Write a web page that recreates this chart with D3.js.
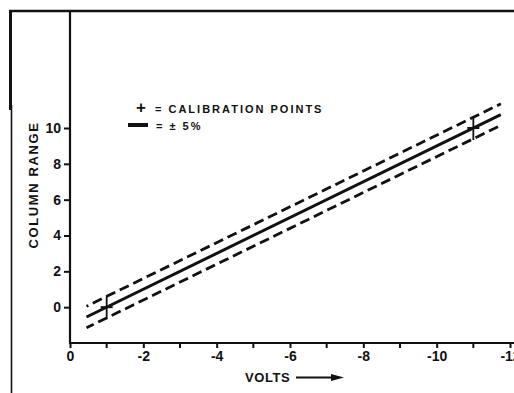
<!DOCTYPE html>
<html>
<head>
<meta charset="utf-8">
<script src="https://cdn.jsdelivr.net/npm/d3@7"></script>
<style>
  html, body { margin: 0; padding: 0; background: #fff; }
  svg { display: block; }
  text { font-family: "Liberation Sans", "DejaVu Sans", sans-serif; font-weight: bold; fill: #111; }
</style>
</head>
<body>
<svg id="chart" width="514" height="393"></svg>
<script>
// Axis ticks
const voltTicks = [0, -2, -4, -6, -8, -10, -12];
const voltMinorTicks = [-1, -3, -5, -7, -9, -11];
const rangeTicks = [0, 2, 4, 6, 8, 10];

// Calibration curve: column range vs. volts
const curveVolts = [-0.45, -11.75];
const curveRange = [-0.55, 10.75];
// ±5% tolerance band
const upperRange = [0.05, 11.35];
const lowerRange = [-1.15, 10.15];

// Calibration points
const calVolts = [-1, -11];
const calRange = [0, 10];

const svg = d3.select("#chart");
const ink = "#111";

const x = d3.scaleLinear().domain([0, -12]).range([70, 510]);
const y = d3.scaleLinear().domain([-2, 10]).range([343, 128]);

// Frame lines
svg.append("line").attr("x1", 9).attr("x2", 514).attr("y1", 11).attr("y2", 11)
  .attr("stroke", ink).attr("stroke-width", 2.5);
svg.append("line").attr("x1", 10.5).attr("x2", 10.5).attr("y1", 10).attr("y2", 110)
  .attr("stroke", ink).attr("stroke-width", 3);
svg.append("line").attr("x1", 11.5).attr("x2", 11.5).attr("y1", 105).attr("y2", 393)
  .attr("stroke", ink).attr("stroke-width", 1.6);

// Y axis
const yAxis = svg.append("g").attr("transform", "translate(70,0)")
  .call(d3.axisLeft(y).tickValues(rangeTicks).tickSize(6).tickPadding(3).tickFormat(d3.format("d")));
yAxis.select(".domain").remove();
yAxis.selectAll(".tick line").attr("stroke", ink).attr("stroke-width", 2);
yAxis.selectAll(".tick text").attr("font-size", 14).style("font-family", "'Liberation Sans', sans-serif")
  .style("font-weight", "bold").attr("fill", ink);
svg.append("line").attr("x1", 70).attr("x2", 70).attr("y1", 10).attr("y2", 344)
  .attr("stroke", ink).attr("stroke-width", 2.2);

// X axis
const xAxis = svg.append("g").attr("transform", "translate(0,343)")
  .call(d3.axisBottom(x).tickValues(voltTicks).tickSize(5).tickPadding(3)
    .tickFormat(d => d === 0 ? "0" : "-" + Math.abs(d)));
xAxis.select(".domain").remove();
xAxis.selectAll(".tick line").attr("stroke", ink).attr("stroke-width", 2);
xAxis.selectAll(".tick text").attr("font-size", 14).style("font-family", "'Liberation Sans', sans-serif")
  .style("font-weight", "bold").attr("fill", ink);
svg.append("g").selectAll("line").data(voltMinorTicks).join("line")
  .attr("x1", d => x(d)).attr("x2", d => x(d)).attr("y1", 343).attr("y2", 348)
  .attr("stroke", ink).attr("stroke-width", 2);
svg.append("line").attr("x1", 69).attr("x2", 514).attr("y1", 343).attr("y2", 343)
  .attr("stroke", ink).attr("stroke-width", 2.2);

// Tolerance band (dashed) and calibration curve (solid)
const seg = (vals) => d3.line().x((d, i) => x(curveVolts[i])).y(d => y(d))(vals);
svg.append("path").attr("d", seg(upperRange)).attr("fill", "none").attr("stroke", ink)
  .attr("stroke-width", 2.8).attr("stroke-dasharray", "10,5").attr("stroke-dashoffset", 8);
svg.append("path").attr("d", seg(lowerRange)).attr("fill", "none").attr("stroke", ink)
  .attr("stroke-width", 2.8).attr("stroke-dasharray", "10,5").attr("stroke-dashoffset", 2);
svg.append("path").attr("d", seg(curveRange)).attr("fill", "none").attr("stroke", ink)
  .attr("stroke-width", 3);

// Calibration point markers
const cal = svg.append("g").selectAll("g").data(calVolts).join("g")
  .attr("transform", (d, i) => `translate(${x(d)},${y(calRange[i])})`);
cal.append("line").attr("x1", 0).attr("x2", 0).attr("y1", -11).attr("y2", 12)
  .attr("stroke", ink).attr("stroke-width", 1.8);
cal.append("line").attr("x1", -6).attr("x2", 6).attr("y1", 0).attr("y2", 0)
  .attr("stroke", ink).attr("stroke-width", 2);

// Legend
svg.append("text").attr("x", 141).attr("y", 113).attr("text-anchor", "middle")
  .attr("font-size", 17).text("+");
svg.append("text").attr("x", 155).attr("y", 112.5).attr("font-size", 11)
  .attr("letter-spacing", 2).text("= CALIBRATION POINTS");
svg.append("line").attr("x1", 128).attr("x2", 148).attr("y1", 125).attr("y2", 125)
  .attr("stroke", ink).attr("stroke-width", 4);
svg.append("text").attr("x", 156).attr("y", 129.5).attr("font-size", 11)
  .attr("letter-spacing", 2).text("= ± 5%");

// Axis titles
svg.append("text").attr("transform", "translate(38,185) rotate(-90)")
  .attr("text-anchor", "middle").attr("font-size", 13).attr("letter-spacing", 1.6)
  .text("COLUMN RANGE");
svg.append("text").attr("x", 245).attr("y", 382).attr("font-size", 13)
  .attr("letter-spacing", 0.6).text("VOLTS");
svg.append("line").attr("x1", 296).attr("x2", 334).attr("y1", 377.5).attr("y2", 377.5)
  .attr("stroke", ink).attr("stroke-width", 1.8);
svg.append("path").attr("d", "M331,374 L344,377.5 L331,381 Z").attr("fill", ink);
</script>
</body>
</html>
